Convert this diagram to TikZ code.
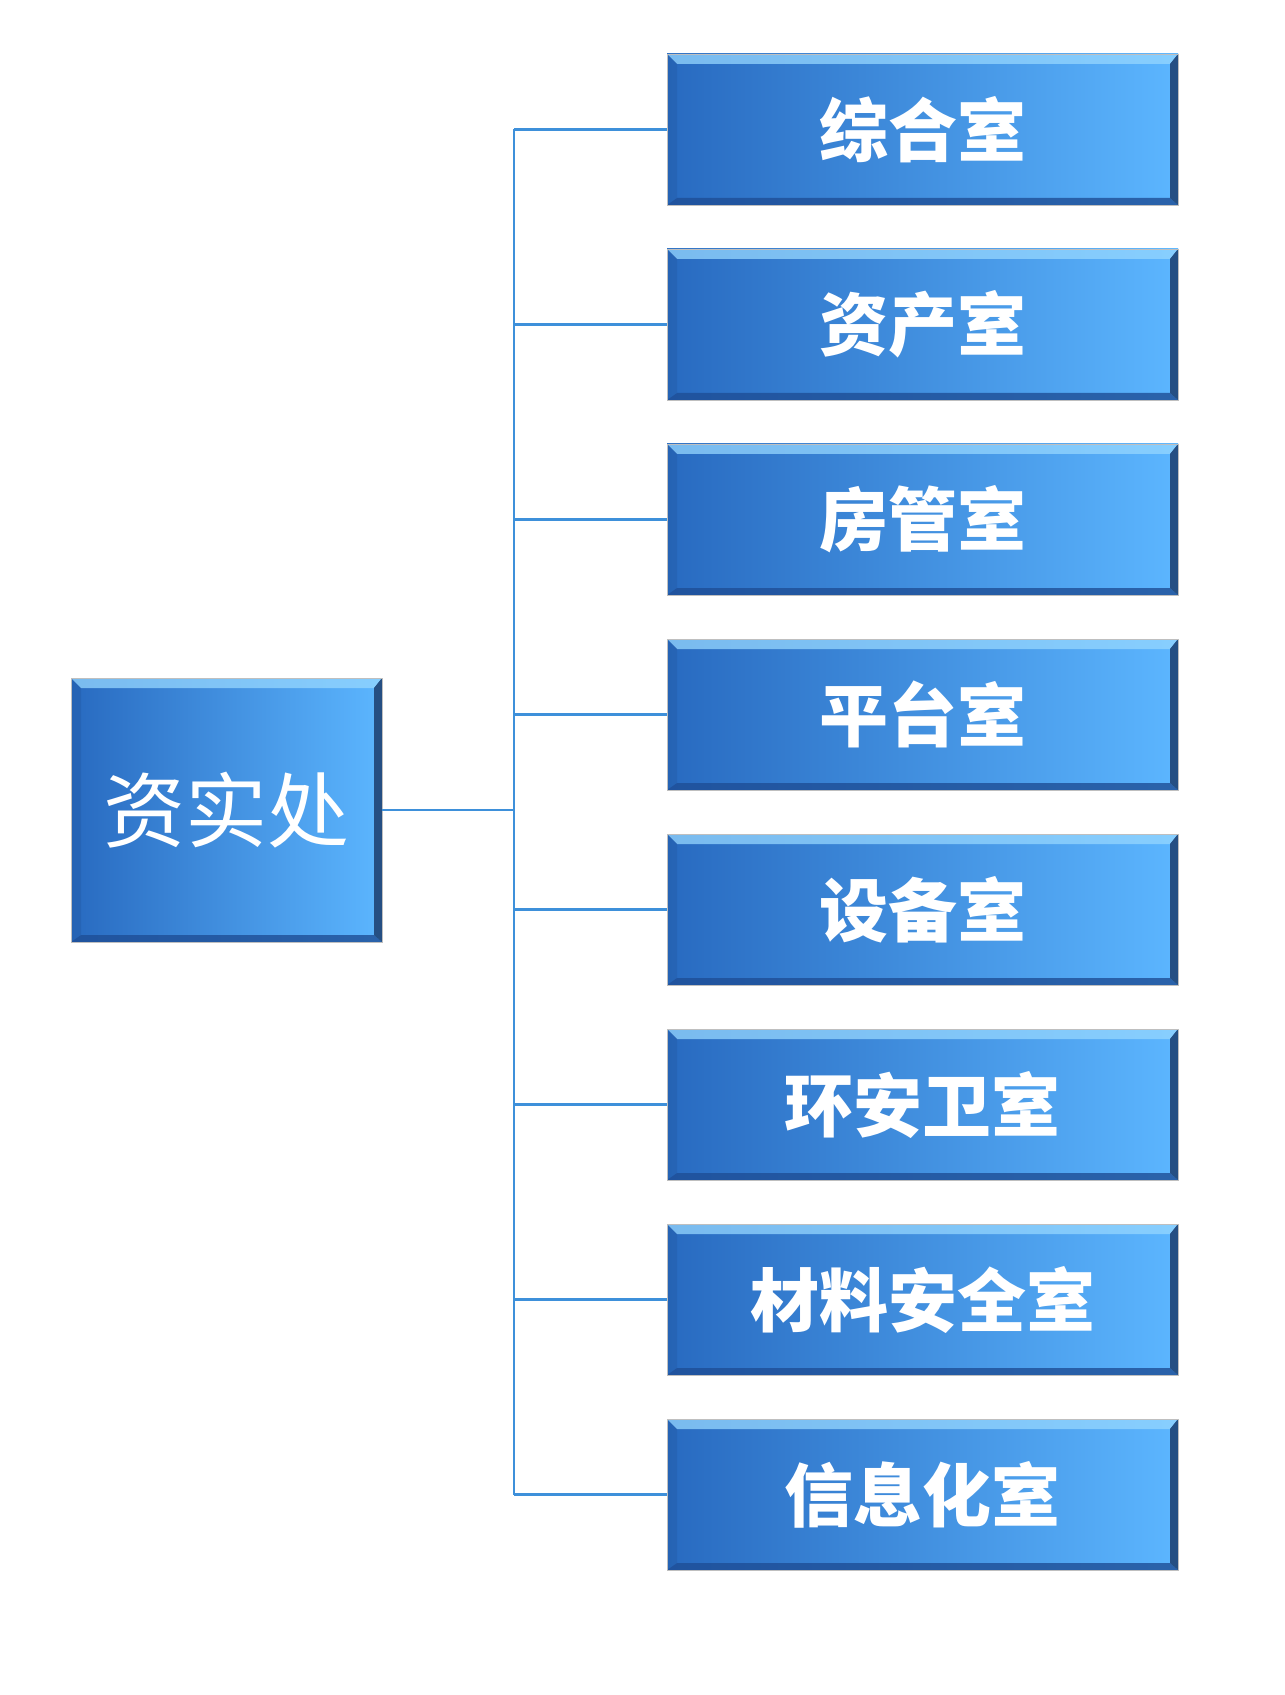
\documentclass[tikz,border=0pt]{standalone}
\usepackage{fontspec}
\newfontfamily\cjk{Noto Sans CJK SC}
\usepackage{tikz}
\usetikzlibrary{positioning}

\definecolor{boxL}{RGB}{40,106,192}
\definecolor{boxR}{RGB}{92,182,255}
\definecolor{bevTop}{RGB}{150,215,255}
\definecolor{bevBot}{RGB}{30,78,150}
\definecolor{bevRight}{RGB}{28,62,110}
\definecolor{linkBlue}{RGB}{62,144,218}

\tikzset{
  bevel/.style={path picture={
    \fill[bevTop, opacity=0.75] (path picture bounding box.north west) -- (path picture bounding box.north east)
      -- ([xshift=-4pt,yshift=-5pt]path picture bounding box.north east) -- ([xshift=5pt,yshift=-5pt]path picture bounding box.north west) -- cycle;
    \fill[bevBot, opacity=0.8] (path picture bounding box.south west) -- (path picture bounding box.south east)
      -- ([xshift=-4pt,yshift=3.5pt]path picture bounding box.south east) -- ([xshift=5pt,yshift=3.5pt]path picture bounding box.south west) -- cycle;
    \fill[bevRight, opacity=0.85] (path picture bounding box.north east) -- (path picture bounding box.south east)
      -- ([xshift=-4pt,yshift=3.5pt]path picture bounding box.south east) -- ([xshift=-4pt,yshift=-5pt]path picture bounding box.north east) -- cycle;
    \fill[boxL!85!black, opacity=0.4] (path picture bounding box.north west) -- (path picture bounding box.south west)
      -- ([xshift=5pt,yshift=3.5pt]path picture bounding box.south west) -- ([xshift=5pt,yshift=-5pt]path picture bounding box.north west) -- cycle;
  }},
  roombox/.style={rectangle, bevel, left color=boxL, right color=boxR, draw=black!25, line width=0.4pt,
    minimum width=255.5pt, minimum height=75.5pt, outer sep=0pt, text=white,
    font=\cjk\bfseries\fontsize{34.5pt}{34.5pt}\selectfont},
  headbox/.style={rectangle, bevel, left color=boxL, right color=boxR, draw=black!25, line width=0.4pt,
    minimum width=155.5pt, minimum height=132pt, outer sep=0pt, text=white,
    font=\cjk\fontsize{41pt}{41pt}\selectfont},
  link/.style={draw=linkBlue, line width=1.1pt}
}

\begin{document}
\begin{tikzpicture}[x=0.5pt, y=-0.5pt, node distance=22pt]
    \useasboundingbox (0,0) rectangle (1284,1695);

    \node[headbox] (head) at (226.5,810) {资实处};

    \node[roombox] (zonghe) at (922.5,129.5) {综合室};
    \node[roombox] (zichan) [below=of zonghe] {资产室};
    \node[roombox] (fangguan) [below=of zichan] {房管室};
    \node[roombox] (pingtai) [below=of fangguan] {平台室};
    \node[roombox] (shebei) [below=of pingtai] {设备室};
    \node[roombox] (huanan) [below=of shebei] {环安卫室};
    \node[roombox] (cailiao) [below=of huanan] {材料安全室};
    \node[roombox] (xinxi) [below=of cailiao] {信息化室};

    \coordinate (hub) at ([xshift=66pt]head.east);

    \draw[link] (head.east) -- (hub);
    \draw[link] (zonghe.west -| hub) -- (xinxi.west -| hub);
    \draw[link] (zonghe.west -| hub) -- (zonghe.west);
    \draw[link] (zichan.west -| hub) -- (zichan.west);
    \draw[link] (fangguan.west -| hub) -- (fangguan.west);
    \draw[link] (pingtai.west -| hub) -- (pingtai.west);
    \draw[link] (shebei.west -| hub) -- (shebei.west);
    \draw[link] (huanan.west -| hub) -- (huanan.west);
    \draw[link] (cailiao.west -| hub) -- (cailiao.west);
    \draw[link] (xinxi.west -| hub) -- (xinxi.west);
\end{tikzpicture}
\end{document}
